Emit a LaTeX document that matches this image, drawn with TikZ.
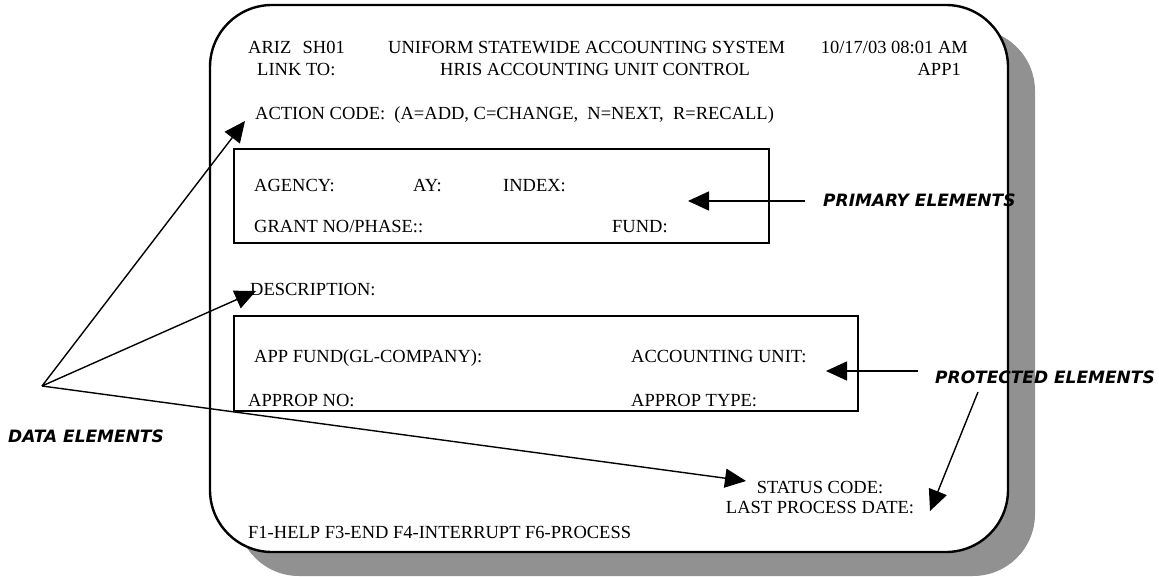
\documentclass[tikz,border=0pt]{standalone}
\usepackage{fontspec}
\setmainfont{Liberation Serif}
\newfontfamily\labfont{DejaVu Sans}
\usetikzlibrary{arrows.meta}
\definecolor{shadowgray}{RGB}{145,145,145}
\begin{document}
\begin{tikzpicture}[x=1pt,y=-1pt,
  txt/.style={inner sep=0pt, font=\fontsize{18.5}{22}\selectfont, anchor=base west},
  lbl/.style={inner sep=0pt, font=\labfont\bfseries\itshape\fontsize{17}{20}\selectfont, anchor=base west},
  ptr/.style={line width=1.4pt, -{Triangle[length=21pt,width=19pt]}},
  fieldbox/.style={draw, line width=1.8pt},
  screen/.style={draw, line width=2.4pt, fill=white, rounded corners=62pt},
  shadowbox/.style={fill=shadowgray, rounded corners=62pt}]
\useasboundingbox (0,0) rectangle (1159,577);
% screen with shadow
\path[shadowbox] (237,29) rectangle (1035,576);
\path[screen] (210,5) rectangle (1008,552);
% header
\node[txt] (ariz) at (248,54) {ARIZ};
\node[txt, anchor=base east] (sh) at (345,54) {SH01};
\node[txt] (title) at (388,54) {UNIFORM STATEWIDE ACCOUNTING SYSTEM};
\node[txt, anchor=base east] (date) at (968,54) {10/17/03 08:01 AM};
\node[txt] (link) at (257,76) {LINK TO:};
\node[txt] (sub) at (440,76) {HRIS ACCOUNTING UNIT CONTROL};
\node[txt, anchor=base east] (app) at (961,76) {APP1};
\node[txt] (action) at (255,120) {ACTION CODE:\ \ (A=ADD, C=CHANGE,\ \ N=NEXT,\ \ R=RECALL)};
% primary box
\draw[fieldbox] (234,149) rectangle (769,243);
\node[txt] (agency) at (254,192) {AGENCY:};
\node[txt] (ay) at (413,192) {AY:};
\node[txt] (index) at (503,192) {INDEX:};
\node[txt] (grant) at (254,233) {GRANT NO/PHASE::};
\node[txt] (fund) at (612,233) {FUND:};
\node[txt] (desc) at (250,295) {DESCRIPTION:};
% protected box
\draw[fieldbox] (234,316) rectangle (858,411);
\node[txt] (appfund) at (254,362) {APP FUND(GL-COMPANY):};
\node[txt] (acctunit) at (631,362) {ACCOUNTING UNIT:};
\node[txt] (appropno) at (248,406) {APPROP NO:};
\node[txt] (approptype) at (631,406) {APPROP TYPE:};
% status
\node[txt, anchor=base] (status) at (820,493) {STATUS CODE:};
\node[txt, anchor=base] (lastdate) at (820,513) {LAST PROCESS DATE:};
\node[txt] (fkeys) at (248,538) {F1-HELP F3-END F4-INTERRUPT F6-PROCESS};
% labels
\node[lbl] (primary) at (823,207) {PRIMARY ELEMENTS};
\node[lbl] (protected) at (935,383) {PROTECTED ELEMENTS};
\node[lbl] (data) at (8,442) {DATA ELEMENTS};
% arrow coordinates
\coordinate (ptail) at (805,201);
\coordinate (ptip) at (688,201);
\coordinate (rtail) at (918,371);
\coordinate (rtip) at (826,371);
\coordinate (rtail2) at (978,392);
\coordinate (rtip2) at (930,511);
\coordinate (dsrc) at (42,386);
\coordinate (dtip1) at (245,121);
\coordinate (dtip2) at (256,291);
\coordinate (dtip3) at (746,481);
% arrows
\draw[ptr] (ptail) -- (ptip);
\draw[ptr] (rtail) -- (rtip);
\draw[ptr] (rtail2) -- (rtip2);
\draw[ptr] (dsrc) -- (dtip1);
\draw[ptr] (dsrc) -- (dtip2);
\draw[ptr] (dsrc) -- (dtip3);
\end{tikzpicture}
\end{document}
